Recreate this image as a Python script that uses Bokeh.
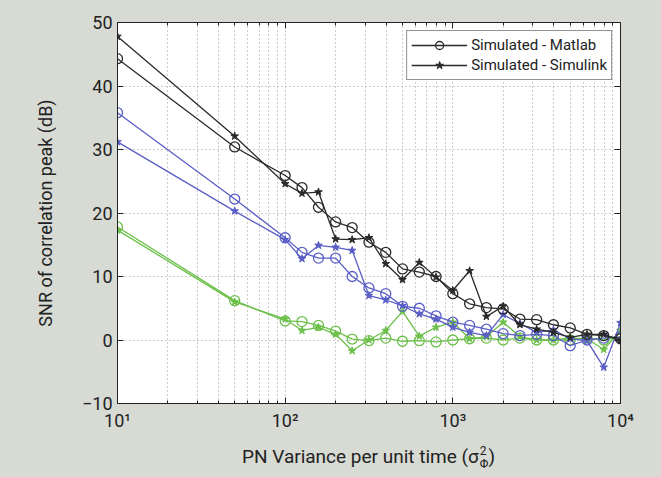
from bokeh.plotting import figure
from bokeh.models import FixedTicker, LogAxis, LinearAxis, Legend, LegendItem, Div
from bokeh.layouts import column
from bokeh.embed import file_html
from bokeh.resources import INLINE

# ---- data ----
x_vals = [10, 50, 100, 126, 158, 200, 251, 316, 398, 501, 631, 794, 1000,
          1259, 1585, 1995, 2512, 3162, 3981, 5012, 6310, 7943, 10000]
black_matlab = [44.3, 30.4, 25.9, 24.0, 20.9, 18.6, 17.7, 15.4, 13.8, 11.2, 10.7, 10.0, 7.3,
                5.7, 5.1, 4.9, 3.3, 3.2, 2.4, 1.9, 0.9, 0.7, 0.2]
black_simulink = [47.8, 32.1, 24.6, 23.1, 23.3, 15.9, 15.8, 16.1, 12.0, 9.5, 12.2, 9.9, 7.8,
                  10.9, 3.7, 5.3, 2.4, 1.7, 1.2, 0.4, 0.9, 0.9, -0.1]
blue_matlab = [35.8, 22.2, 16.1, 13.8, 12.9, 12.9, 10.0, 8.2, 7.3, 5.3, 5.0, 3.8, 2.8,
               2.3, 1.7, 1.0, 0.7, 0.9, 0.7, -0.9, 0.0, 0.3, 0.5]
blue_simulink = [31.2, 20.3, 15.8, 12.8, 14.9, 14.6, 14.1, 7.0, 6.3, 5.4, 4.1, 3.3, 2.0,
                 1.2, 0.7, 4.0, 2.6, 1.2, 1.6, 0.2, -0.1, -4.3, 2.7]
green_matlab = [17.8, 6.2, 3.0, 2.9, 2.3, 1.4, 0.15, -0.1, 0.3, -0.2, -0.1, -0.3, 0.0,
                0.2, 0.3, 0.0, 0.3, 0.0, 0.0, 0.0, 0.3, 0.0, 0.5]
green_simulink = [17.3, 6.0, 3.3, 1.5, 2.0, 0.9, -1.7, 0.0, 1.5, 4.5, 0.6, 2.0, 2.8,
                  0.2, 0.5, 2.8, 0.5, 0.0, 0.0, 0.3, 0.2, -1.5, 1.5]

x_major = [10, 100, 1000, 10000]
x_minor = [20, 30, 40, 50, 60, 70, 80, 90, 200, 300, 400, 500, 600, 700, 800, 900,
           2000, 3000, 4000, 5000, 6000, 7000, 8000, 9000]
x_labels = {10: "10¹", 100: "10²", 1000: "10³", 10000: "10⁴"}
y_ticks = [-10, 0, 10, 20, 30, 40, 50]

legend_labels = ["Simulated - Matlab", "Simulated - Simulink"]
y_title = "SNR of correlation peak (dB)"
x_title = "PN Variance per unit time"

FONT = "Roboto"
BG = "#d7dbd4"
GRID = "#9a9a9a"
INK = "#222222"

p = figure(width=661, height=437, x_axis_type="log", x_range=(10, 10000), y_range=(-10, 50),
           output_backend="svg", toolbar_location=None,
           min_border_left=117, min_border_right=41, min_border_top=22, min_border_bottom=34)
p.border_fill_color = BG
p.background_fill_color = "white"
p.outline_line_color = INK
p.outline_line_width = 1

xt = FixedTicker(ticks=x_major, minor_ticks=x_minor)
yt = FixedTicker(ticks=y_ticks, minor_ticks=[])
p.xaxis.ticker = xt
p.yaxis.ticker = yt
p.xgrid.ticker = xt
p.ygrid.ticker = yt
p.xaxis.major_label_overrides = x_labels

for ax in (p.xaxis[0], p.yaxis[0]):
    ax.axis_line_color = INK
    ax.major_tick_in = 6
    ax.major_tick_out = 0
    ax.minor_tick_in = 3
    ax.minor_tick_out = 0
    ax.major_tick_line_color = INK
    ax.minor_tick_line_color = INK
    ax.major_label_text_font = FONT
    ax.major_label_text_font_size = "18px"
    ax.major_label_text_color = INK
p.yaxis.minor_tick_line_color = None
p.yaxis.axis_label = y_title
p.yaxis.axis_label_text_font = FONT
p.yaxis.axis_label_text_font_size = "18px"
p.yaxis.axis_label_text_font_style = "normal"
p.yaxis.axis_label_text_color = INK
p.yaxis.axis_label_standoff = 23
p.yaxis.major_label_standoff = 5
p.xaxis.major_label_standoff = 6

# mirror axes (box ticks), labels hidden
top = LogAxis(ticker=xt, major_label_text_font_size="1px", major_label_text_color=None,
              major_tick_in=6, major_tick_out=0, minor_tick_in=3, minor_tick_out=0,
              axis_line_color=INK, major_tick_line_color=INK, minor_tick_line_color=INK)
right = LinearAxis(ticker=yt, major_label_text_font_size="1px", major_label_text_color=None,
                   major_tick_in=6, major_tick_out=0, minor_tick_line_color=None,
                   axis_line_color=INK, major_tick_line_color=INK)
p.add_layout(top, "above")
p.add_layout(right, "right")

for g in (p.xgrid[0], p.ygrid[0]):
    g.grid_line_color = GRID
    g.grid_line_dash = "1 3"
    g.grid_line_width = 1
p.xgrid.minor_grid_line_color = GRID
p.xgrid.minor_grid_line_dash = "1 3"
p.ygrid.minor_grid_line_color = None

BLACK = "#2a2a2a"
BLUE = "#5a5ec6"
GREEN = "#6cc04a"

def series(y, color, marker):
    ln = p.line(x_vals, y, line_color=color, line_width=1.3)
    if marker == "circle":
        sc = p.scatter(x_vals, y, marker="circle", size=10, fill_color=None,
                       line_color=color, line_width=1.3)
    else:
        sc = p.scatter(x_vals, y, marker="star", size=8, fill_color=color,
                       line_color=color, line_width=1)
    return ln, sc

g1 = series(green_matlab, GREEN, "circle")
g2 = series(green_simulink, GREEN, "star")
b1 = series(blue_matlab, BLUE, "circle")
b2 = series(blue_simulink, BLUE, "star")
k1 = series(black_matlab, BLACK, "circle")
k2 = series(black_simulink, BLACK, "star")

legend = Legend(items=[LegendItem(label=legend_labels[0], renderers=list(k1)),
                       LegendItem(label=legend_labels[1], renderers=list(k2))],
                location="top_right", margin=8, padding=4, spacing=0,
                glyph_width=56, glyph_height=20, label_standoff=4,
                label_text_font=FONT, label_text_font_size="15px",
                label_text_color=INK,
                border_line_color=INK, border_line_width=1.5,
                background_fill_color="white", background_fill_alpha=1)
p.add_layout(legend, "center")

# x axis title (with stacked super/subscript) as real HTML text below the plot
title_html = (
    f'<div style="font-family:{FONT};font-size:19px;color:{INK};text-align:center;'
    f'width:503px;margin-left:117px;white-space:nowrap;line-height:40px">'
    f'{x_title} (σ'
    '<span style="display:inline-block;vertical-align:middle;line-height:13px;'
    'font-size:12px;text-align:left;margin-left:1px">'
    '<span style="display:block">2</span><span style="display:block">Φ</span></span>)'
    '</div>'
)
xlabel = Div(text=title_html, width=661, height=40,
             styles={"background-color": BG, "margin": "0", "padding": "0"})

layout = column(p, xlabel, spacing=0, styles={"background-color": BG})

open("out.html", "w").write(file_html(layout, INLINE))
